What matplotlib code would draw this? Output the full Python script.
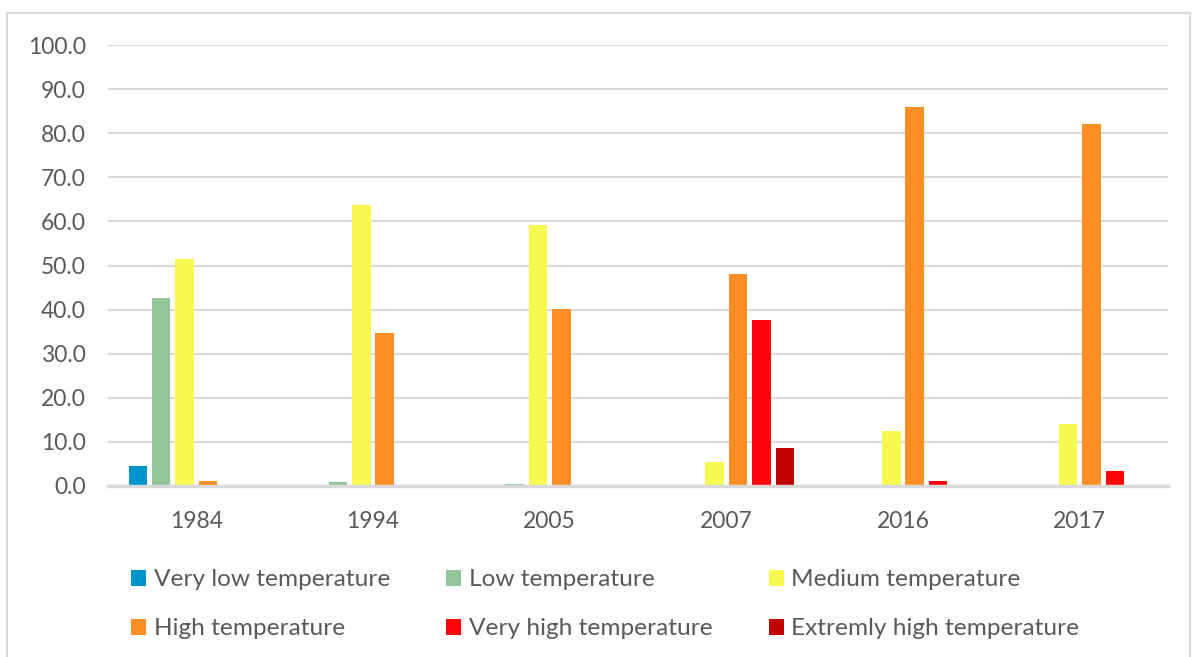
import matplotlib
matplotlib.use("Agg")
import matplotlib.pyplot as plt
from matplotlib.patches import Rectangle
import numpy as np

years = ["1984", "1994", "2005", "2007", "2016", "2017"]
series_names = [
    "Very low temperature",
    "Low temperature",
    "Medium temperature",
    "High temperature",
    "Very high temperature",
    "Extremly high temperature",
]
very_low = [4.6, 0.0, 0.0, 0.0, 0.0, 0.0]
low = [42.7, 1.0, 0.4, 0.0, 0.0, 0.0]
medium = [51.4, 63.8, 59.2, 5.5, 12.4, 14.0]
high = [1.1, 34.8, 40.2, 48.0, 86.0, 82.1]
very_high = [0.0, 0.0, 0.0, 37.7, 1.1, 3.4]
extremely_high = [0.0, 0.0, 0.0, 8.6, 0.0, 0.0]
y_ticks = [0, 10, 20, 30, 40, 50, 60, 70, 80, 90, 100]

series_values = [very_low, low, medium, high, very_high, extremely_high]
colors = ["#0093CC", "#92C59A", "#F8F852", "#FF8F24", "#FF050A", "#C00000"]

plt.rcParams["font.family"] = ["Lato", "DejaVu Sans"]
text_color = "#595959"
grid_color = "#D9D9D9"

fig = plt.figure(figsize=(11.93, 6.57), dpi=100)
ax = fig.add_axes([108 / 1193, 1 - 486 / 657, (1168 - 108) / 1193, (486 - 45) / 657])

x = np.arange(len(years))
step = 0.1325
width = 0.105
handles = []
for j, (name, vals, col) in enumerate(zip(series_names, series_values, colors)):
    b = ax.bar(x + (j - 2.5) * step, vals, width=width, color=col, label=name,
               zorder=3, linewidth=0)
    handles.append(b)

ax.set_xlim(-0.5, len(years) - 0.5)
ax.set_ylim(0, 100)
ax.set_yticks(y_ticks)
ax.set_yticklabels([f"{v:.1f}" for v in y_ticks])
ax.set_xticks(x)
ax.set_xticklabels(years)
ax.tick_params(axis="both", length=0, labelsize=16.5, colors=text_color)
ax.tick_params(axis="y", pad=16)
ax.tick_params(axis="x", pad=18)
ax.grid(axis="y", color=grid_color, linewidth=1.5, zorder=0)
for side in ["top", "right", "left"]:
    ax.spines[side].set_visible(False)
ax.spines["bottom"].set_color(grid_color)
ax.spines["bottom"].set_linewidth(2.5)
ax.spines["bottom"].set_zorder(4)

# Legend laid out row by row: three entries per row
order = [0, 3, 1, 4, 2, 5]
leg = fig.legend([handles[i] for i in order], [series_names[i] for i in order],
                 ncol=3, loc="upper left", bbox_to_anchor=(119 / 1193, 1 - 557 / 657),
                 frameon=False, fontsize=17.6, handlelength=0.62, handleheight=0.62,
                 handletextpad=0.3, columnspacing=2.3, labelspacing=1.15,
                 borderpad=0)
for t in leg.get_texts():
    t.set_color(text_color)

# Light border around the whole chart area
fig.patches.append(Rectangle((7 / 1193, -0.01), (1190 - 7) / 1193, 1.01 - 13 / 657,
                             transform=fig.transFigure, fill=False,
                             edgecolor=grid_color, linewidth=1.5))

fig.savefig("out.png", dpi=100)
